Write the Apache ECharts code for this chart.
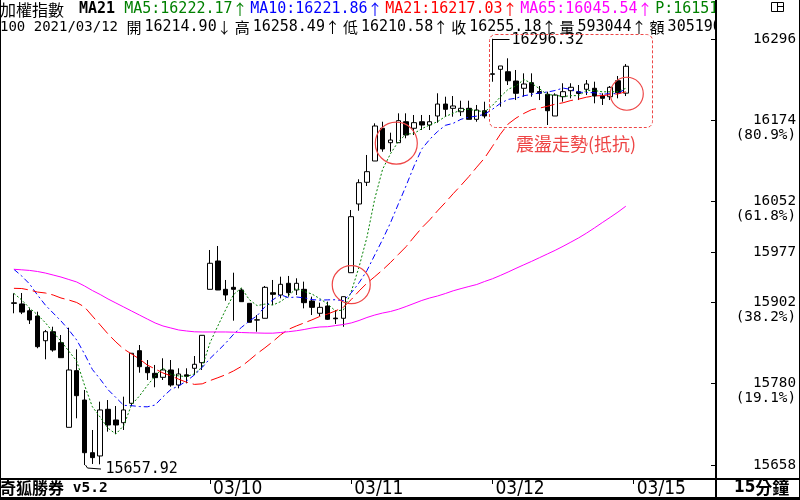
<!DOCTYPE html>
<html>
<head>
<meta charset="utf-8">
<title>加權指數 15分鐘</title>
<script src="https://cdn.jsdelivr.net/npm/echarts@6.0.0/dist/echarts.min.js"></script>
<style>
  html, body { margin: 0; padding: 0; background: #fff; }
  #main { width: 800px; height: 500px; }
</style>
</head>
<body>
<div id="main"></div>
<script>
// 15 minute bars, 18 per session
const days = ['03/08', '03/09', '03/10', '03/11', '03/12', '03/15']
const times = ['09:15', '09:30', '09:45', '10:00', '10:15', '10:30', '10:45', '11:00', '11:15',
  '11:30', '11:45', '12:00', '12:15', '12:30', '12:45', '13:00', '13:15', '13:30']
const labelDays = ['03/10', '03/11', '03/12', '03/15']

const opens = [15900.0, 15899.2, 15889.0, 15881.1, 15844.1, 15857.6, 15841.2, 15714.4, 15799.3, 15755.3,
  15676.4, 15671.5, 15741.4, 15725.4, 15721.3, 15750.4, 15829.2, 15804.3, 15795.3, 15789.3,
  15800.3, 15777.8, 15793.0, 15802.8, 15811.2, 15921.1, 15963.5, 15921.1, 15924.1, 15920.1,
  15900.1, 15875.0, 15877.7, 15916.0, 15912.6, 15930.1, 15920.1, 15921.1, 15903.6, 15885.2,
  15896.1, 15878.0, 15877.7, 15946.0, 16048.9, 16081.4, 16113.3, 16162.3, 16140.7, 16140.7,
  16172.1, 16162.3, 16172.1, 16167.2, 16180.7, 16198.6, 16192.2, 16187.1, 16192.2, 16175.7,
  16188.6, 16243.1, 16250.6, 16247.0, 16233.1, 16222.2, 16230.6, 16217.2, 16213.2, 16180.7,
  16209.6, 16218.6, 16217.0, 16220.7, 16222.2, 16210.6, 16209.6, 16233.5, 16214.90]
const closes = [15901.0, 15887.0, 15875.2, 15835.2, 15857.6, 15830.2, 15818.7, 15800.3, 15761.8, 15676.4,
  15669.0, 15740.4, 15717.9, 15717.9, 15740.4, 15825.3, 15805.2, 15796.2, 15788.8, 15800.3,
  15777.8, 15794.3, 15790.8, 15808.8, 15852.2, 15960.1, 15920.1, 15912.6, 15921.1, 15902.6,
  15871.7, 15875.5, 15924.1, 15913.6, 15928.6, 15916.0, 15930.1, 15901.1, 15894.1, 15894.1,
  15876.2, 15877.0, 15910.1, 16029.9, 16080.8, 16097.3, 16165.7, 16131.3, 16144.7, 16173.7,
  16152.2, 16170.7, 16167.2, 16172.1, 16198.6, 16190.7, 16195.7, 16192.2, 16175.7, 16189.7,
  16180.7, 16244.0, 16255.6, 16233.5, 16214.7, 16228.6, 16216.2, 16214.7, 16188.6, 16212.1,
  16217.1, 16223.7, 16214.5, 16228.6, 16210.6, 16207.2, 16223.7, 16215.6, 16255.18]
const lows = [15885.2, 15884.0, 15869.2, 15832.8, 15816.3, 15827.7, 15818.7, 15714.4, 15727.9, 15657.92,
  15659.5, 15659.0, 15707.9, 15704.4, 15710.4, 15746.3, 15796.2, 15785.3, 15774.4, 15785.3,
  15775.2, 15772.8, 15780.3, 15792.8, 15800.3, 15921.0, 15920.0, 15904.0, 15874.1, 15902.6,
  15871.7, 15857.6, 15877.7, 15897.6, 15907.6, 15910.1, 15912.6, 15892.6, 15882.6, 15881.1,
  15875.2, 15869.2, 15865.0, 15946.0, 16038.8, 16075.8, 16113.3, 16127.2, 16127.2, 16140.7,
  16147.3, 16152.2, 16159.7, 16159.7, 16170.6, 16179.6, 16179.6, 16180.7, 16175.7, 16172.1,
  16177.2, 16232.0, 16194.6, 16227.1, 16204.6, 16209.6, 16209.6, 16204.6, 16167.2, 16180.7,
  16202.1, 16207.2, 16204.6, 16212.1, 16199.7, 16197.2, 16204.6, 16207.2, 16210.58]
const highs = [15915.1, 15915.6, 15892.7, 15887.6, 15860.2, 15865.1, 15852.7, 15863.6, 15831.2, 15770.3,
  15710.4, 15752.8, 15755.3, 15746.3, 15760.3, 15825.5, 15837.7, 15815.2, 15807.8, 15817.8,
  15815.2, 15802.8, 15802.8, 15821.2, 15852.2, 15980.0, 15986.0, 15935.1, 15946.0, 15922.6,
  15900.1, 15882.6, 15926.1, 15935.1, 15940.0, 15941.1, 15937.6, 15932.6, 15910.1, 15901.1,
  15902.6, 15890.1, 15910.1, 16039.9, 16085.9, 16122.3, 16169.7, 16172.1, 16155.7, 16184.7,
  16184.7, 16182.2, 16182.2, 16182.2, 16214.7, 16209.6, 16210.6, 16203.6, 16203.6, 16197.2,
  16202.1, 16296.32, 16255.6, 16267.1, 16249.6, 16244.6, 16244.6, 16225.6, 16217.1, 16214.7,
  16229.7, 16229.7, 16227.1, 16234.6, 16232.1, 16214.7, 16225.6, 16240.6, 16258.49]

const ma5 = [15915, 15905, 15893, 15883, 15871.2, 15857.0, 15843.4, 15828.4, 15813.7, 15777.5,
  15745.2, 15729.6, 15713.1, 15704.3, 15717.1, 15748.4, 15761.3, 15777.0, 15791.2, 15803.2,
  15793.7, 15791.5, 15790.4, 15794.4, 15804.8, 15841.2, 15866.4, 15890.8, 15913.2, 15923.3,
  15905.6, 15896.7, 15899.0, 15897.5, 15902.7, 15911.6, 15922.5, 15917.9, 15914.0, 15907.1,
  15899.1, 15888.5, 15890.3, 15917.5, 15954.8, 15999.0, 16056.8, 16101.0, 16124.0, 16142.5,
  16153.5, 16154.5, 16161.7, 16167.2, 16172.2, 16179.9, 16184.9, 16189.9, 16190.6, 16188.8,
  16186.8, 16196.5, 16209.1, 16220.7, 16225.7, 16235.3, 16229.7, 16221.5, 16212.6, 16212.0,
  16209.7, 16211.2, 16211.2, 16219.2, 16218.9, 16216.9, 16216.9, 16217.1, 16222.17]
const ma10 = [15951, 15941, 15929, 15912.6, 15897.6, 15885.6, 15873.7, 15860.2, 15845.2, 15824.3,
  15801.1, 15786.5, 15770.8, 15759.0, 15747.3, 15746.8, 15745.5, 15745.1, 15747.8, 15760.1,
  15771.0, 15776.4, 15783.7, 15792.8, 15804.0, 15817.5, 15828.9, 15840.6, 15853.8, 15864.0,
  15873.4, 15881.6, 15894.9, 15905.4, 15913.0, 15908.6, 15909.6, 15908.4, 15905.7, 15904.9,
  15905.3, 15905.5, 15904.1, 15915.7, 15930.9, 15949.1, 15972.6, 15995.7, 16020.7, 16048.7,
  16076.3, 16105.6, 16131.4, 16145.6, 16157.4, 16166.7, 16169.7, 16175.8, 16178.9, 16180.5,
  16183.3, 16190.7, 16199.5, 16205.6, 16207.3, 16211.0, 16213.1, 16215.3, 16216.6, 16218.9,
  16222.5, 16220.5, 16216.4, 16215.9, 16215.5, 16213.3, 16214.1, 16214.2, 16221.86]
const ma21 = [15922.6, 15922.3, 15920.0, 15917.0, 15915.6, 15912.6, 15908.1, 15905.1, 15901.4, 15894.6,
  15881.1, 15867.7, 15854.2, 15842.2, 15831.7, 15824.2, 15816.7, 15807.7, 15801.8, 15795.8,
  15791.6, 15786.5, 15782.0, 15778.7, 15779.5, 15784.4, 15788.7, 15793.2, 15798.9, 15805.6,
  15814.9, 15824.8, 15833.5, 15842.8, 15852.9, 15861.2, 15866.2, 15870.8, 15875.4, 15880.5,
  15884.1, 15888.8, 15894.3, 15905.7, 15918.6, 15930.3, 15940.1, 15950.2, 15961.2, 15973.2,
  15985.1, 15999.4, 16013.3, 16025.1, 16038.6, 16051.1, 16064.4, 16076.9, 16090.0, 16104.1,
  16117.7, 16135.2, 16153.3, 16168.7, 16177.5, 16184.5, 16190.2, 16192.5, 16195.2, 16198.4,
  16200.5, 16203.9, 16206.0, 16208.9, 16210.8, 16211.2, 16212.7, 16213.7, 16217.03]
const ma65 = [15951.1, 15950.3, 15949.4, 15947.8, 15945.5, 15942.5, 15939.5, 15935.8, 15932.1, 15926.1,
  15919.3, 15913.3, 15906.6, 15900.6, 15894.6, 15888.6, 15882.6, 15876.6, 15870.7, 15866.2,
  15863.2, 15860.2, 15858.7, 15857.5, 15857.2, 15857.2, 15857.2, 15857.2, 15856.9, 15856.4,
  15856.0, 15855.7, 15855.4, 15855.4, 15856.4, 15857.6, 15859.0, 15860.9, 15863.2, 15864.7,
  15865.1, 15866.8, 15868.4, 15870.7, 15874.4, 15878.9, 15882.6, 15885.6, 15887.9, 15891.2,
  15895.4, 15899.9, 15904.4, 15908.1, 15911.1, 15914.8, 15918.9, 15922.2, 15925.3, 15928.3,
  15932.8, 15936.9, 15941.8, 15947.0, 15952.5, 15957.8, 15963.0, 15968.5, 15974.0, 15979.5,
  15985.5, 15991.8, 15998.2, 16005.3, 16013.0, 16021.0, 16028.8, 16036.8, 16045.54]

// fibonacci levels between the low and the high, shown on the right axis
const yTicks = [15657.92, 15779.86, 15901.80, 15977.12, 16052.44, 16174.38, 16296.32]
const yTickPct = ['', '(19.1%)', '(38.2%)', '', '(61.8%)', '(80.9%)', '']

// annotations: circled bars and the boxed range
const circleBars = [43, 49, 78]
const circlePrices = [15928, 16140, 16214]
const boxBars = [61, 81]
const boxPrices = [16303, 16163]
const noteBar = 64
const notePrice = 16139
const noteText = '震盪走勢(抵抗)'

const MONO = '"DejaVu Sans Mono", "Liberation Mono", monospace'
const CJK = '"Noto Sans CJK TC", "Noto Sans CJK SC", sans-serif'
const NARROW = '"Liberation Sans Narrow", "DejaVu Sans Condensed", "Liberation Sans", sans-serif'
const RED = '#ee4646'

let categories = []
days.forEach(function (d, k) {
  let t = times
  if (k === 0) t = times.slice(11)
  if (k === days.length - 1) t = times.slice(0, 11)
  t.forEach(function (tm) { categories.push(d + ' ' + tm) })
})
const isDayStart = function (i, v) {
  return v.slice(6) === times[0] && labelDays.indexOf(v.slice(0, 5)) >= 0
}

let kData = []
for (let i = 0; i < opens.length; i++) {
  kData.push([opens[i], closes[i], lows[i], highs[i]])
}

const last = function (a) { return a[a.length - 1].toFixed(2) }
const row1 = '{k|加權指數} {n|MA21} {g|MA5:' + last(ma5) + '}{ga|↑}{b|MA10:' + last(ma10) + '}{ba|↑}' +
  '{r|MA21:' + last(ma21) + '}{ra|↑}{m|MA65:' + last(ma65) + '}{ma|↑}{g|P:16151}'
const lastI = opens.length - 1
const row2 = '100 2021/03/12 {c|開}{v|' + opens[lastI].toFixed(2) + '}{c|↓}{c|高}{v|' + highs[lastI].toFixed(2) +
  '}{c|↑}{c|低}{v|' + lows[lastI].toFixed(2) + '}{c|↑}{c|收}{v|' + closes[lastI].toFixed(2) +
  '}{c|↑}{c|量}{v|593044}{c|↑}{c|額}{v|305190}'

const head = function (color, cjk) {
  if (cjk) return {color: color, fontFamily: CJK, fontSize: 15, width: 17.6}
  return {color: color, fontFamily: MONO, fontSize: 15}
}

let chart = echarts.init(document.getElementById('main'))
let option = {
  animation: false,
  backgroundColor: '#fff',
  title: [
    {
      left: 0,
      top: 1,
      padding: 0,
      text: row1,
      textStyle: {
        fontFamily: MONO,
        fontSize: 15,
        fontWeight: 'normal',
        color: '#000',
        lineHeight: 17,
        rich: {
          k: {fontFamily: CJK, fontSize: 16, width: 70, color: '#000'},
          n: {fontFamily: MONO, fontSize: 15, fontWeight: 'bold', color: '#000'},
          g: head('#008000'),
          ga: head('#008000', true),
          b: head('#0000ff'),
          ba: head('#0000ff', true),
          r: head('#ff0000'),
          ra: head('#ff0000', true),
          m: head('#ff00ff'),
          ma: head('#ff00ff', true)
        }
      }
    },
    {
      left: 0,
      top: 19,
      padding: 0,
      text: row2,
      textStyle: {
        fontFamily: MONO,
        fontSize: 14,
        fontWeight: 'normal',
        color: '#000',
        lineHeight: 17,
        rich: {
          c: {fontFamily: CJK, fontSize: 15, width: 18, color: '#000'},
          v: {fontFamily: MONO, fontSize: 15, color: '#000'}
        }
      }
    },
    {
      left: 0,
      top: 480,
      padding: 0,
      text: '{c|奇狐勝券} {v|v5.2}',
      textStyle: {
        fontFamily: MONO,
        fontSize: 14.5,
        color: '#000',
        rich: {
          c: {fontFamily: CJK, fontSize: 16, color: '#000'},
          v: {fontFamily: MONO, fontSize: 14.5, fontWeight: 'bold', color: '#000'}
        }
      }
    },
    {
      left: 734,
      top: 479,
      padding: 0,
      text: '{d|15}{c|分鐘}',
      textStyle: {
        rich: {
          d: {fontFamily: NARROW, fontSize: 17, color: '#000'},
          c: {fontFamily: CJK, fontSize: 17, color: '#000'}
        }
      }
    }
  ],
  grid: {left: 10, right: 84, top: 32, bottom: 22},
  xAxis: {
    type: 'category',
    data: categories,
    boundaryGap: true,
    axisLine: {show: false},
    splitLine: {show: false},
    axisTick: {
      show: true,
      alignWithLabel: true,
      interval: isDayStart,
      length: 6,
      lineStyle: {color: '#000'}
    },
    axisLabel: {
      interval: isDayStart,
      formatter: function (v) { return v.slice(0, 5) },
      align: 'left',
      verticalAlign: 'top',
      padding: [0, 0, 0, 3],
      margin: 2,
      fontFamily: NARROW,
      fontSize: 19,
      color: '#000'
    }
  },
  yAxis: {
    type: 'value',
    position: 'right',
    min: 15638.5,
    max: 16306.5,
    splitLine: {show: false},
    axisLine: {show: false},
    axisTick: {
      show: true,
      inside: true,
      length: 5,
      customValues: yTicks,
      lineStyle: {color: '#000'}
    },
    axisLabel: {
      customValues: yTicks,
      formatter: function (v) {
        let k = 0
        for (let i = 0; i < yTicks.length; i++) {
          if (Math.abs(yTicks[i] - v) < 0.01) k = i
        }
        let s = String(Math.round(v))
        if (yTickPct[k]) s = ' \n' + s + '\n' + yTickPct[k]
        return s
      },
      align: 'right',
      margin: 80,
      lineHeight: 15,
      fontFamily: MONO,
      fontSize: 14.3,
      color: '#000'
    }
  },
  series: [
    {
      type: 'candlestick',
      name: '加權指數',
      data: kData,
      barWidth: 5,
      itemStyle: {
        color: '#fff',
        color0: '#000',
        borderColor: '#000',
        borderColor0: '#000',
        borderWidth: 1
      },
      markPoint: {
        symbol: 'circle',
        label: {show: false},
        itemStyle: {color: 'rgba(0,0,0,0)', borderColor: RED, borderWidth: 1.2},
        data: [
          {coord: [circleBars[0], circlePrices[0]], symbolSize: 38},
          {coord: [circleBars[1], circlePrices[1]], symbolSize: 42, symbolOffset: [-2, 0]},
          {coord: [circleBars[2], circlePrices[2]], symbolSize: 33, symbolOffset: [1, 0]}
        ]
      }
    },
    {
      type: 'line',
      name: 'MA5',
      data: ma5,
      symbol: 'none',
      lineStyle: {color: '#008000', width: 1, type: [2, 2]}
    },
    {
      type: 'line',
      name: 'MA10',
      data: ma10,
      symbol: 'none',
      lineStyle: {color: '#0000ff', width: 1, type: [6, 3, 2, 3]}
    },
    {
      type: 'line',
      name: 'MA21',
      data: ma21,
      symbol: 'none',
      lineStyle: {color: '#ff0000', width: 1, type: [14, 5]}
    },
    {
      type: 'line',
      name: 'MA65',
      data: ma65,
      symbol: 'none',
      lineStyle: {color: '#ff00ff', width: 1}
    }
  ]
}
chart.setOption(option)

// frame, panels and annotations placed from the axes
const px = function (i, v) { return chart.convertToPixel({gridIndex: 0}, [i, v]) }
const slot = px(1, 0)[0] - px(0, 0)[0]

let hiIdx = highs.indexOf(Math.max.apply(null, highs))
let loIdx = lows.indexOf(Math.min.apply(null, lows))
let hi = px(hiIdx, highs[hiIdx])
let lo = px(loIdx, lows[loIdx])
let b1 = px(boxBars[0], boxPrices[0])
let b2 = px(boxBars[1], boxPrices[1])
let note = px(noteBar, notePrice)

let graphic = [
  // cover for header overflow in the right panel
  {type: 'rect', z: 100, shape: {x: 717, y: 0, width: 83, height: 31}, style: {fill: '#fff'}},
  {type: 'rect', z: 101, shape: {x: 0, y: 0, width: 1, height: 500}, style: {fill: '#000'}},
  {type: 'rect', z: 101, shape: {x: 799, y: 0, width: 1, height: 500}, style: {fill: '#000'}},
  {type: 'rect', z: 101, shape: {x: 715, y: 0, width: 2, height: 500}, style: {fill: '#000'}},
  {type: 'rect', z: 101, shape: {x: 0, y: 478, width: 800, height: 2}, style: {fill: '#000'}},
  {type: 'rect', z: 101, shape: {x: 0, y: 497, width: 800, height: 3}, style: {fill: '#000'}},
  // small window icon
  {type: 'rect', z: 102, shape: {x: 771.5, y: 2.5, width: 12, height: 9}, style: {fill: 'none', stroke: '#000', lineWidth: 1}},
  {type: 'line', z: 102, shape: {x1: 777.5, y1: 2.5, x2: 777.5, y2: 11.5}, style: {stroke: '#000', lineWidth: 1}},
  {type: 'line', z: 102, shape: {x1: 777.5, y1: 6.5, x2: 783.5, y2: 6.5}, style: {stroke: '#000', lineWidth: 1}},
  // high / low labels
  {
    type: 'polyline', z: 50,
    shape: {points: [[Math.round(hi[0]) + 0.5, Math.round(hi[1]) + 0.5], [Math.round(hi[0]) + 17.5, Math.round(hi[1]) + 0.5]]},
    style: {stroke: '#000', lineWidth: 1, fill: 'none'}
  },
  {
    type: 'text', z: 50, x: hi[0] + 19, y: hi[1] + 1,
    style: {text: highs[hiIdx].toFixed(2), fill: '#000', font: '15px ' + MONO, verticalAlign: 'middle'}
  },
  {
    type: 'polyline', z: 50,
    shape: {points: [[Math.round(lo[0]) + 0.5, lo[1]], [Math.round(lo[0]) + 2.5, lo[1] + 3], [Math.round(lo[0]) + 16, lo[1] + 4]]},
    style: {stroke: '#000', lineWidth: 1, fill: 'none'}
  },
  {
    type: 'text', z: 50, x: lo[0] + 21, y: lo[1] + 4,
    style: {text: lows[loIdx].toFixed(2), fill: '#000', font: '15px ' + MONO, verticalAlign: 'middle'}
  },
  // dashed range box and its note
  {
    type: 'rect', z: 50,
    shape: {x: Math.round(b1[0] - slot / 2) + 0.5, y: Math.round(b1[1]) + 0.5, width: Math.round(b2[0] + 2 - b1[0] + slot / 2), height: Math.round(b2[1] - b1[1]), r: 6},
    style: {fill: 'none', stroke: RED, lineWidth: 1, lineDash: [3, 2]}
  },
  {
    type: 'text', z: 50, x: note[0], y: note[1],
    style: {text: noteText, fill: RED, font: '18px ' + CJK, verticalAlign: 'middle'}
  }
]
chart.setOption({graphic: graphic})
</script>
</body>
</html>
